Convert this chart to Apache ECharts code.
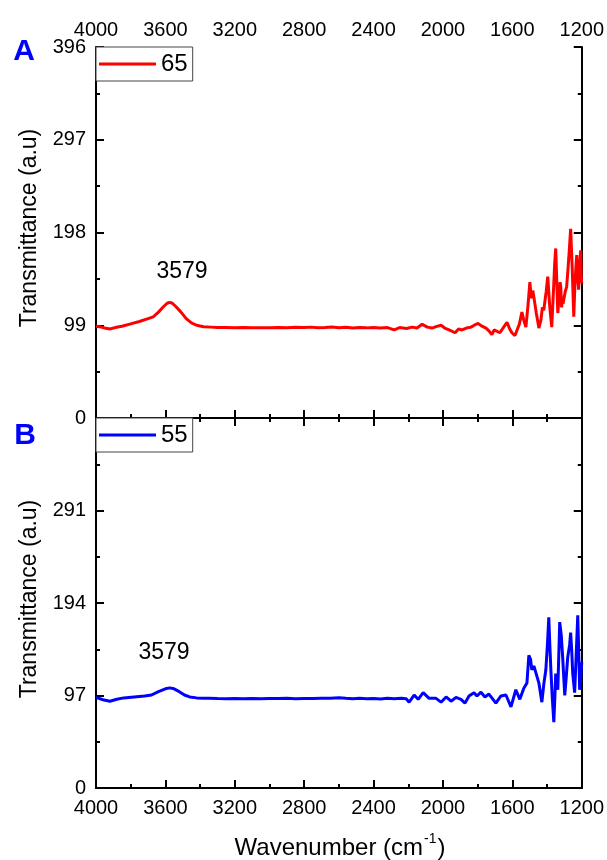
<!DOCTYPE html>
<html>
<head>
<meta charset="utf-8">
<script src="https://cdn.jsdelivr.net/npm/echarts@6/dist/echarts.min.js"></script>
<style>
html,body{margin:0;padding:0;background:#fff;}
#c{width:607px;height:860px;}
</style>
</head>
<body>
<div id="c"></div>
<script>
// ---- Data ----
const xTicks = [4000, 3600, 3200, 2800, 2400, 2000, 1600, 1200];
const yTicksA = [0, 99, 198, 297, 396];
const yTicksB = [0, 97, 194, 291];

const wn65 = [4000,3980,3950,3920,3890,3850,3800,3750,3700,3670,3640,3610,3590,3575,3560,3540,3510,3480,3450,3420,3380,3340,3300,
  3250,3200,3150,3100,3050,3000,2950,2900,2850,2800,2760,2720,2680,2640,2600,2560,2520,2480,2440,2400,2360,2320,2281,2250,2210,
  2178,2150,2120,2090,2063,2040,2011,1990,1965,1930,1910,1890,1865,1838,1820,1798,1775,1752,1735,1718,1705,1695,1672,1650,1631,
  1615,1603,1585,1574,1560,1545,1535,1522,1510,1499,1493,1488,1482,1476,1462,1447,1435,1427,1419,1405,1396,1385,1373,1362,1356,1350,1343,1338,1330,
  1325,1321,1316,1312,1308,1304,1295,1287,1275,1264,1255,1246,1240,1234,1229,1223,1218,1212,1206,1203,1200];
const t65 = [98,97.5,96,95,96.5,98,100.5,103,106,108,113,119,122.5,123.5,122.5,119,113,106,101.5,99,97.5,97,96.5,
  96.5,96.3,96.5,96.2,96.4,96.3,96.5,96.4,96.8,96.5,97,96.3,96.6,97.2,96.4,96.8,96,96.5,96.2,96.6,96,96.5,94,96.5,95.5,
  97,96,100,97,96,97.5,99,96,94,91,95,94,96,97,99,101,98,96,93,89,94,96,91,97,102,
  95,91,88,87,100,113,105,97,120,145,132,128,136,129,112,96,105,118,115,135,151,120,97,140,165,181,140,112,130,
  145,140,118,128,122,126,135,140,170,202,160,108,140,160,174,150,137,165,179,150,144];

const wn55 = [4000,3960,3920,3880,3840,3780,3720,3680,3640,3600,3575,3550,3520,3490,3460,3420,3380,3350,3300,3250,3200,3150,3100,
  3050,3000,2950,2900,2850,2800,2750,2700,2650,2600,2560,2520,2480,2440,2400,2360,2320,2280,2240,2212,2195,2166,2143,2114,2080,
  2040,2011,1982,1953,1925,1896,1873,1850,1821,1804,1781,1758,1735,1695,1666,1637,1608,1580,1557,1534,1516,1505,1495,1488,1476,
  1465,1447,1430,1418,1407,1398,1390,1384,1378,1370,1361,1355,1350,1338,1327,1318,1310,1298,1290,1281,1270,1264,1258,1252,1241,
  1232,1223,1217,1212,1206,1200];
const t55 = [95,92.5,91,93,94.5,95.5,96.5,97.5,101,104,105,104,101,97.5,95.5,94.5,94,94,93.8,93.7,93.8,93.6,93.8,
  93.7,93.9,93.8,94,93.7,93.9,93.8,94.2,94,94.6,94,93.6,94,93.6,93.8,93.4,94,93.5,94,93.5,90,97.5,93,100,94,
  94,90,95.5,91,95,93,89,96.5,100,96.5,100.5,95.5,98.5,89,96.5,97.5,85,103,93,104.5,110,139,135,124,128,
  126,110,90,110,124,150,179,150,124,95,69,95,120,103,174,160,137,97,115,137,150,163,145,120,100,
  140,181,140,103,115,132];

const pairs = (xs, ys) => xs.map((x, i) => [x, ys[i]]);

const FONT = '"Liberation Sans", Arial, sans-serif';
const chart = echarts.init(document.getElementById('c'), null, {renderer: 'canvas'});

const axLine = {show: true, lineStyle: {color: '#000', width: 2}};
const tick = {show: true, inside: true, length: 8, lineStyle: {color: '#000', width: 2}};
const minor = {show: true, splitNumber: 2, length: 4, lineStyle: {color: '#000', width: 2}};
const lbl = {fontSize: 20, color: '#000', fontFamily: FONT};

function xAx(gridIndex, position, showLabel, showTicks, margin) {
  return {
    type: 'value', gridIndex, position, inverse: true, min: 1200, max: 4000, interval: 400,
    axisLine: axLine,
    axisTick: showTicks ? tick : {show: false},
    minorTick: showTicks ? minor : {show: false},
    axisLabel: showLabel ? Object.assign({show: true, margin: margin, formatter: v => xTicks.includes(v) ? String(v) : ''}, lbl) : {show: false},
    splitLine: {show: false}
  };
}
function yAx(gridIndex, position, max, interval, showLabel, ticks) {
  return {
    type: 'value', gridIndex, position, min: 0, max, interval,
    axisLine: axLine, axisTick: tick, minorTick: minor,
    axisLabel: showLabel ? Object.assign({show: true, margin: 10, formatter: v => ticks.includes(v) ? String(v) : ''}, lbl) : {show: false},
    splitLine: {show: false}
  };
}

const legendCommon = {
  orient: 'horizontal', left: 96, padding: [5, 5, 5, 3], itemWidth: 57, itemHeight: 3, icon: 'rect',
  borderColor: '#444', borderWidth: 1, backgroundColor: '#fff', borderRadius: 0,
  textStyle: {fontSize: 24, color: '#000', fontFamily: FONT}
};

chart.setOption({
  animation: false,
  backgroundColor: '#fff',
  grid: [
    {left: 96, top: 47, width: 487, height: 371},
    {left: 96, top: 418, width: 487, height: 370}
  ],
  xAxis: [
    xAx(0, 'top', true, true, 7),
    xAx(0, 'bottom', false, true, 10),
    xAx(1, 'bottom', true, true, 10),
    xAx(1, 'top', false, false, 10)
  ],
  yAxis: [
    yAx(0, 'left', 396, 99, true, yTicksA),
    yAx(0, 'right', 396, 99, false, yTicksA),
    yAx(1, 'left', 388, 97, true, yTicksB),
    yAx(1, 'right', 388, 97, false, yTicksB)
  ],
  legend: [
    Object.assign({data: ['65'], top: 47}, legendCommon),
    Object.assign({data: ['55'], top: 418}, legendCommon)
  ],
  series: [
    {name: '65', type: 'line', xAxisIndex: 0, yAxisIndex: 0, data: pairs(wn65, t65),
     symbol: 'none', color: '#ff0000', lineStyle: {color: '#ff0000', width: 3}},
    {name: '55', type: 'line', xAxisIndex: 2, yAxisIndex: 2, data: pairs(wn55, t55),
     symbol: 'none', color: '#0000ff', lineStyle: {color: '#0000ff', width: 3}}
  ],
  graphic: [
    {type: 'text', x: 24, y: 52, style: {text: 'A', font: 'bold 30px ' + FONT, fill: '#0000ff', align: 'center', verticalAlign: 'middle'}},
    {type: 'text', x: 25, y: 436, style: {text: 'B', font: 'bold 30px ' + FONT, fill: '#0000ff', align: 'center', verticalAlign: 'middle'}},
    {type: 'text', x: 30, y: 228, rotation: Math.PI / 2, style: {text: 'Transmittance (a.u)', font: '23px ' + FONT, fill: '#000', align: 'center', verticalAlign: 'middle'}},
    {type: 'text', x: 30, y: 599, rotation: Math.PI / 2, style: {text: 'Transmittance (a.u)', font: '23px ' + FONT, fill: '#000', align: 'center', verticalAlign: 'middle'}},
    {type: 'text', x: 182, y: 272, style: {text: '3579', font: '23px ' + FONT, fill: '#000', align: 'center', verticalAlign: 'middle'}},
    {type: 'text', x: 164, y: 653, style: {text: '3579', font: '23px ' + FONT, fill: '#000', align: 'center', verticalAlign: 'middle'}},
    {type: 'text', x: 340, y: 846, style: {
      text: '{m|Wavenumber (cm}{s|-1}{m|)}', align: 'center', verticalAlign: 'middle',
      rich: {
        m: {fontSize: 24, fontFamily: FONT, fill: '#000', color: '#000', lineHeight: 28, verticalAlign: 'bottom'},
        s: {fontSize: 14, fontFamily: FONT, fill: '#000', color: '#000', lineHeight: 28, verticalAlign: 'top', padding: [0, 1, 0, 1]}
      }
    }}
  ]
});
</script>
</body>
</html>
